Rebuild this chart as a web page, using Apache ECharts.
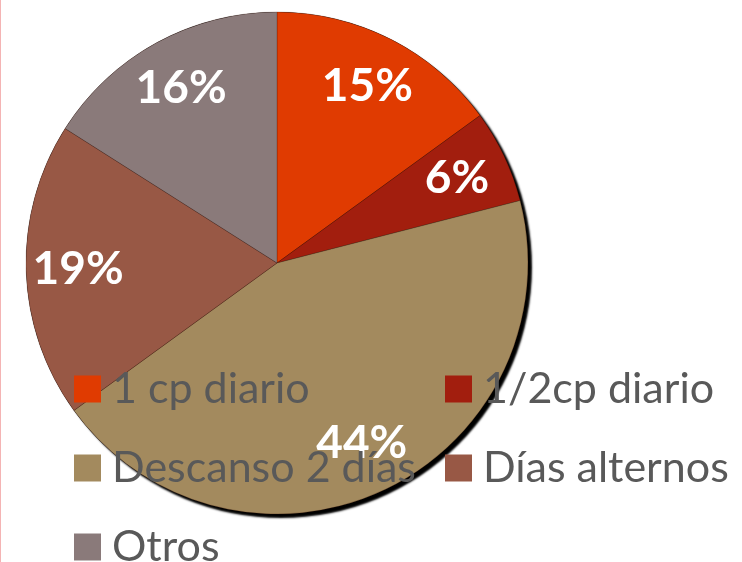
<!DOCTYPE html>
<html>
<head>
<meta charset="utf-8">
<script src="https://cdn.jsdelivr.net/npm/echarts@6/dist/echarts.min.js"></script>
<style>
  html, body { margin: 0; padding: 0; background: #fff; }
  #chart { width: 741px; height: 562px; border-left: 1px solid #f4b4b4; }
</style>
</head>
<body>
<div id="chart"></div>
<script>
// datos
var categories = ["1 cp diario", "1/2cp diario", "Descanso 2 días", "Días alternos", "Otros"];
var values = [15, 6, 44, 19, 16];
var colors = ["#E03B01", "#A21E0E", "#A38A5E", "#985845", "#8A7A7A"];
var legendCol1 = ["1 cp diario", "Descanso 2 días", "Otros"];
var legendCol2 = ["1/2cp diario", "Días alternos"];

var chart = echarts.init(document.getElementById("chart"));

var pieData = categories.map(function (name, i) {
  return { name: name, value: values[i], itemStyle: { color: colors[i] } };
});
var labelData = categories.map(function (name, i) {
  return { name: name, value: values[i] };
});

var center = [276, 263];
var radius = 251;

var legendBase = {
  orient: "vertical",
  top: 364,
  height: 300,
  padding: 0,
  icon: "rect",
  itemWidth: 27,
  itemHeight: 27,
  itemGap: 29,
  selectedMode: false,
  itemStyle: { borderWidth: 0 },
  textStyle: {
    fontFamily: "Lato",
    fontSize: 43,
    color: "#595959",
    lineHeight: 50,
    padding: [0, 0, 0, 6],
  },
};

var option = {
  animation: false,
  legend: [
    Object.assign({}, legendBase, { left: 73, data: legendCol1 }),
    Object.assign({}, legendBase, { left: 444, data: legendCol2 }),
  ],
  series: [
    {
      // sombra del circulo
      type: "pie",
      silent: true,
      center: center,
      radius: radius,
      z: 1,
      label: { show: false },
      data: [{ name: "_sombra", value: 1 }],
      itemStyle: {
        color: "#000",
        shadowColor: "#000",
        shadowBlur: 2,
        shadowOffsetX: 4,
        shadowOffsetY: 4,
      },
    },
    {
      type: "pie",
      center: center,
      radius: radius,
      startAngle: 90,
      z: 2,
      label: { show: false },
      labelLine: { show: false },
      itemStyle: { borderColor: "rgba(60,20,10,0.35)", borderWidth: 0.7 },
      emphasis: { disabled: true },
      data: pieData,
    },
    {
      // anillo transparente solo para colocar las etiquetas
      type: "pie",
      silent: true,
      center: center,
      radius: [Math.round(radius * 0.56), radius],
      startAngle: 90,
      z: 3,
      itemStyle: { color: "rgba(0,0,0,0)" },
      label: {
        show: true,
        position: "inside",
        formatter: "{d}%",
        color: "#fff",
        fontFamily: "Lato",
        fontWeight: "bold",
        fontSize: 46,
      },
      labelLine: { show: false },
      emphasis: { disabled: true },
      data: labelData,
    },
  ],
};
chart.setOption(option);
</script>
</body>
</html>
